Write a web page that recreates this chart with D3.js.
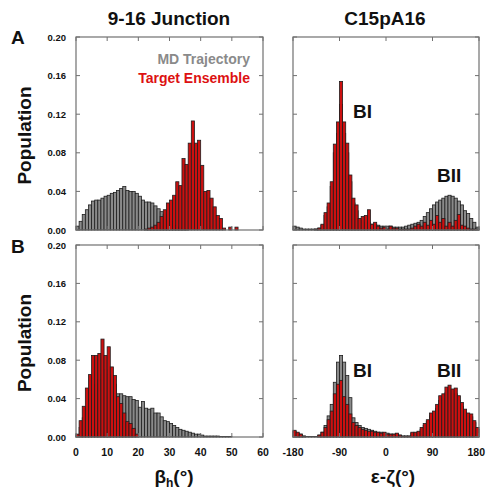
<!DOCTYPE html>
<html>
<head>
<meta charset="utf-8">
<script src="https://cdn.jsdelivr.net/npm/d3@7"></script>
<style>
  body { margin: 0; background: #fff; }
  text { font-family: "Liberation Sans", Arial, Helvetica, sans-serif; font-weight: bold; }
</style>
</head>
<body>
<div id="chart"></div>
<script>
// Histogram values (population per bin)
// beta_h : 60 bins of 1 degree from 0 to 60
var betaMdA = [0.004,0.009,0.016,0.021,0.026,0.030,0.031,0.031,0.033,0.035,0.036,0.038,0.039,0.041,0.043,0.045,0.041,0.040,0.040,0.038,
  0.035,0.031,0.029,0.029,0.028,0.025,0.022,0.019,0.016,0.012,0.009,0.005,0.003,0.002,0.001,0.001,0,0,0,0,
  0,0,0,0,0,0,0,0,0,0,0,0,0,0,0,0,0,0,0,0];
var betaTargetA = [0,0,0,0,0,0,0,0,0,0,0,0,0,0,0,0,0,0,0,0,
  0,0,0.001,0.002,0.003,0.005,0.008,0.014,0.021,0.028,0.031,0.036,0.050,0.046,0.074,0.068,0.090,0.113,0.090,0.093,
  0.067,0.040,0.041,0.033,0.024,0.015,0.012,0.002,0,0.003,0,0.003,0,0,0,0,0,0,0,0];
var betaMdB = [0.002,0.010,0.020,0.030,0.040,0.050,0.055,0.060,0.065,0.070,0.065,0.060,0.055,0.045,0.045,0.043,0.042,0.042,0.039,0.038,
  0.031,0.037,0.030,0.029,0.030,0.025,0.025,0.021,0.017,0.016,0.014,0.012,0.010,0.008,0.007,0.006,0.005,0.004,0.003,0.003,
  0.002,0.001,0.001,0.001,0.001,0.001,0.0005,0.0005,0.0005,0.0005,0,0,0,0,0,0,0,0,0,0];
var betaTargetB = [0.003,0.017,0.032,0.051,0.065,0.085,0.085,0.087,0.102,0.085,0.094,0.073,0.064,0.042,0.035,0.025,0.016,0.014,0.009,0.003,
  0,0,0,0,0,0,0,0,0,0,0,0,0,0,0,0,0,0,0,0,
  0,0,0,0,0,0,0,0,0,0,0,0,0,0,0,0,0,0,0,0];

// epsilon-zeta : 60 bins of 6 degrees from -180 to 180
var ezMdA = [0.004,0.003,0.002,0.001,0.001,0.001,0.001,0.001,0.002,0.005,0.015,0.024,0.045,0.080,0.100,0.130,0.100,0.080,0.050,0.028,
  0.020,0.010,0.008,0.008,0.008,0.006,0.006,0.005,0.004,0.004,0.004,0.004,0.003,0.003,0.003,0.003,0.004,0.005,0.006,0.007,
  0.008,0.010,0.014,0.018,0.022,0.026,0.029,0.031,0.033,0.035,0.036,0.035,0.033,0.030,0.026,0.020,0.017,0.012,0.008,0.003];
var ezTargetA = [0,0,0,0,0,0,0,0.001,0.002,0.006,0.018,0.028,0.050,0.089,0.112,0.154,0.112,0.090,0.057,0.033,
  0.026,0.012,0.014,0.015,0.021,0.006,0.008,0.004,0.002,0.003,0.001,0.004,0.002,0.002,0.001,0.001,0.001,0.001,0.002,0.004,
  0.006,0.004,0.008,0.005,0.010,0.006,0.015,0.008,0.012,0.004,0.008,0.004,0.010,0.016,0.005,0.004,0.002,0.001,0.001,0.001];
var ezMdB = [0.006,0.004,0.003,0.001,0,0,0,0,0.002,0.005,0.012,0.022,0.034,0.057,0.078,0.085,0.078,0.064,0.041,0.020,
  0.015,0.012,0.010,0.009,0.008,0.007,0.006,0.005,0.005,0.004,0.004,0.003,0.003,0.003,0.002,0.001,0.001,0.001,0.004,0.004,
  0.005,0.008,0.012,0.016,0.022,0.024,0.030,0.038,0.040,0.046,0.048,0.045,0.045,0.038,0.032,0.026,0.022,0.021,0.015,0.008];
var ezTargetB = [0.007,0.005,0.003,0.001,0.0005,0.0005,0.0005,0.0005,0.002,0.005,0.010,0.018,0.027,0.045,0.055,0.059,0.042,0.034,0.024,0.015,
  0.012,0.010,0.008,0.007,0.006,0.006,0.005,0.005,0.004,0.005,0.003,0.003,0.003,0.004,0.002,0.001,0.001,0.001,0.005,0.005,
  0.006,0.010,0.014,0.018,0.025,0.027,0.034,0.043,0.045,0.052,0.054,0.050,0.051,0.043,0.036,0.029,0.025,0.024,0.017,0.010];

var yTicks = [0, 0.04, 0.08, 0.12, 0.16, 0.20];
var betaTicks = [0, 10, 20, 30, 40, 50, 60];
var ezTicks = [-180, -90, 0, 90, 180];

var colors = {"md" : "#8a8a8a", "target" : "#cc1010", "edge" : "#1e1e1e", "frame" : "#707070"};

var svg = d3.select("#chart")
            .append("svg")
            .attr("width", 486)
            .attr("height", 493);

// Panel layout
var cols = [
  {"x0" : 76, "x1" : 263, "domain" : [0, 60], "binStart" : 0, "binWidth" : 1, "ticks" : betaTicks},
  {"x0" : 293, "x1" : 479, "domain" : [-180, 180], "binStart" : -180, "binWidth" : 6, "ticks" : ezTicks}
];
var rows = [{"y0" : 37, "y1" : 230}, {"y0" : 245, "y1" : 437}];

var panels = [
  {"col" : 0, "row" : 0, "md" : betaMdA, "target" : betaTargetA},
  {"col" : 1, "row" : 0, "md" : ezMdA, "target" : ezTargetA},
  {"col" : 0, "row" : 1, "md" : betaMdB, "target" : betaTargetB},
  {"col" : 1, "row" : 1, "md" : ezMdB, "target" : ezTargetB}
];

panels.forEach(function(p)
{
  var c = cols[p.col], r = rows[p.row];
  var x = d3.scaleLinear().domain(c.domain).range([c.x0, c.x1]);
  var y = d3.scaleLinear().domain([0, 0.20]).range([r.y1, r.y0]);
  var g = svg.append("g");

  function drawBars(values, fill)
  {
    g.selectAll(null)
      .data(values)
      .enter()
        .append("rect")
        .attr("x", function(d, i){ return x(c.binStart + i * c.binWidth); })
        .attr("width", function(d, i){ return x(c.binStart + (i + 1) * c.binWidth) - x(c.binStart + i * c.binWidth); })
        .attr("y", function(d){ return y(d); })
        .attr("height", function(d){ return r.y1 - y(d); })
        .attr("fill", fill)
        .attr("stroke", colors.edge)
        .attr("stroke-width", 0.8);
  }

  drawBars(p.md, colors.md);
  drawBars(p.target, colors.target);

  // frame
  g.append("rect")
    .attr("x", c.x0).attr("y", r.y0)
    .attr("width", c.x1 - c.x0).attr("height", r.y1 - r.y0)
    .attr("fill", "none").attr("stroke", colors.frame).attr("stroke-width", 1.2);

  // inward ticks on all sides
  var tk = 4;
  c.ticks.forEach(function(t)
  {
    g.append("line").attr("x1", x(t)).attr("x2", x(t)).attr("y1", r.y1).attr("y2", r.y1 - tk).attr("stroke", colors.frame);
    g.append("line").attr("x1", x(t)).attr("x2", x(t)).attr("y1", r.y0).attr("y2", r.y0 + tk).attr("stroke", colors.frame);
  });
  yTicks.forEach(function(t)
  {
    g.append("line").attr("x1", c.x0).attr("x2", c.x0 + tk).attr("y1", y(t)).attr("y2", y(t)).attr("stroke", colors.frame);
    g.append("line").attr("x1", c.x1).attr("x2", c.x1 - tk).attr("y1", y(t)).attr("y2", y(t)).attr("stroke", colors.frame);
  });

  // y tick labels only on left column
  if(p.col == 0)
  {
    g.selectAll(null).data(yTicks).enter()
      .append("text")
      .attr("x", c.x0 - 10)
      .attr("y", function(d){ return y(d) + 3.5; })
      .attr("text-anchor", "end")
      .attr("font-size", 9.5)
      .attr("fill", "#111")
      .text(function(d){ return d3.format(".2f")(d); });

    svg.append("text")
      .attr("transform", "translate(31," + ((r.y0 + r.y1) / 2 + 2) + ") rotate(-90)")
      .attr("text-anchor", "middle")
      .attr("font-size", 19)
      .attr("fill", "#111")
      .text("Population");
  }

  // x tick labels on bottom row (last label of the right column pulled inside the page)
  if(p.row == 1)
  {
    g.selectAll(null).data(c.ticks).enter()
      .append("text")
      .attr("x", function(d, i){ return (p.col == 1 && i == c.ticks.length - 1) ? 485 : x(d); })
      .attr("y", 456)
      .attr("text-anchor", function(d, i){ return (p.col == 1 && i == c.ticks.length - 1) ? "end" : "middle"; })
      .attr("font-size", 10.5)
      .attr("fill", "#111")
      .text(function(d){ return d; });
  }
});

// Column titles
svg.append("text").attr("x", 169).attr("y", 25).attr("text-anchor", "middle")
   .attr("font-size", 19).attr("fill", "#111").text("9-16 Junction");
svg.append("text").attr("x", 385).attr("y", 25).attr("text-anchor", "middle")
   .attr("font-size", 19).attr("fill", "#111").text("C15pA16");

// Row letters
svg.append("text").attr("x", 11).attr("y", 44).attr("font-size", 19).attr("fill", "#111").text("A");
svg.append("text").attr("x", 11).attr("y", 253).attr("font-size", 19).attr("fill", "#111").text("B");

// Legend
svg.append("text").attr("x", 250).attr("y", 64).attr("text-anchor", "end")
   .attr("font-size", 14).attr("fill", "#8a8a8a").text("MD Trajectory");
svg.append("text").attr("x", 250).attr("y", 83).attr("text-anchor", "end")
   .attr("font-size", 14).attr("fill", "#dd1111").text("Target Ensemble");

// Peak labels
var peakLabels = [
  {"text" : "BI", "x" : 353, "y" : 118},
  {"text" : "BII", "x" : 437, "y" : 182},
  {"text" : "BI", "x" : 353, "y" : 377},
  {"text" : "BII", "x" : 437, "y" : 377}
];
svg.selectAll(".peak").data(peakLabels).enter()
   .append("text").attr("class", "peak")
   .attr("x", function(d){ return d.x; })
   .attr("y", function(d){ return d.y; })
   .attr("font-size", 19).attr("fill", "#111")
   .text(function(d){ return d.text; });

// Axis titles
var bt = svg.append("text").attr("x", 174).attr("y", 483).attr("text-anchor", "middle")
            .attr("font-size", 19).attr("fill", "#111");
bt.append("tspan").text("β");
bt.append("tspan").attr("font-size", 12).attr("dy", 4).text("h");
bt.append("tspan").attr("dy", -4).text("(°)");

svg.append("text").attr("x", 393).attr("y", 483).attr("text-anchor", "middle")
   .attr("font-size", 19).attr("fill", "#111").text("ε-ζ(°)");
</script>
</body>
</html>
